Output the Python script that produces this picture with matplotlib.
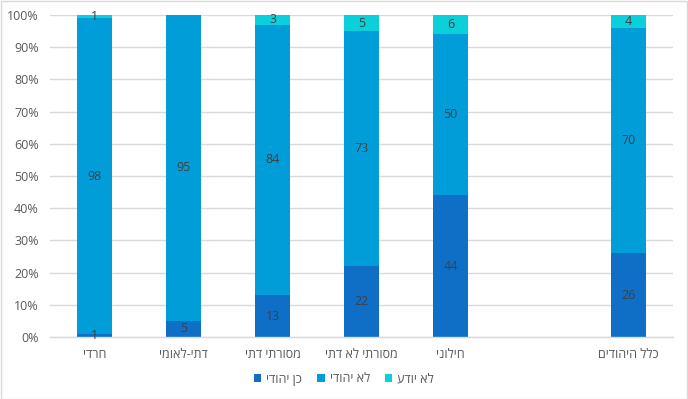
import numpy as np
import matplotlib
matplotlib.use("Agg")
import matplotlib.pyplot as plt
from matplotlib.patches import Rectangle
from matplotlib.ticker import PercentFormatter

plt.rcParams['font.family'] = ['Open Sans', 'DejaVu Sans']

categories = ['חרדי', 'דתי-לאומי', 'מסורתי דתי', 'מסורתי לא דתי', 'חילוני', '', 'כלל היהודים']
yes_jewish = [1, 5, 13, 22, 44, np.nan, 26]
not_jewish = [98, 95, 84, 73, 50, np.nan, 70]
dont_know = [1, 0, 3, 5, 6, np.nan, 4]
series_names = ['כן יהודי', 'לא יהודי', 'לא יודע']
colors = ['#0F6FC6', '#009DD9', '#0BD0D9']
yticks = [0, 10, 20, 30, 40, 50, 60, 70, 80, 90, 100]


def rtl(s):
    return s[::-1]


fig = plt.figure(figsize=(6.88, 3.99), dpi=100)
fig.patches.append(Rectangle((0.001, 0.001), 0.997, 0.996, transform=fig.transFigure,
                             fill=False, edgecolor='#D9D9D9', linewidth=1.0))
ax = fig.add_axes([50 / 688, 1 - 337 / 399, 623 / 688, 322 / 399])

data = np.array([yes_jewish, not_jewish, dont_know], dtype=float)
totals = np.nansum(data, axis=0)
totals[totals == 0] = 1
frac = data / totals * 100
x = np.arange(len(categories))
bottom = np.zeros(len(categories))
for i, (name, col) in enumerate(zip(series_names, colors)):
    vals = frac[i]
    ax.bar(x, vals, width=0.4, bottom=bottom, color=col, label=rtl(name), zorder=2)
    for xi, v, b, raw in zip(x, vals, bottom, data[i]):
        if np.isnan(raw) or raw == 0:
            continue
        ax.text(xi, b + v / 2, f'{int(raw)}', ha='center', va='center',
                fontsize=9, color='#404040', zorder=3)
    bottom = bottom + np.nan_to_num(vals)

ax.set_xlim(-0.5, len(categories) - 0.5)
ax.set_ylim(0, 100)
ax.set_yticks(yticks)
ax.yaxis.set_major_formatter(PercentFormatter(100, decimals=0))
ax.set_xticks(x)
ax.set_xticklabels([rtl(c) for c in categories])
ax.tick_params(axis='both', length=0, labelsize=9, colors='#595959')
ax.tick_params(axis='x', pad=8)
ax.tick_params(axis='y', pad=8)
ax.grid(axis='y', color='#D9D9D9', linewidth=1.0, zorder=0)
for s in ['top', 'right', 'left']:
    ax.spines[s].set_visible(False)
ax.spines['bottom'].set_color('#D9D9D9')
ax.spines['bottom'].set_linewidth(1.0)

ax.legend(loc='center', bbox_to_anchor=(0.5, 1 - 379 / 399), bbox_transform=fig.transFigure,
          ncol=3, frameon=False, fontsize=9, labelcolor='#595959',
          handlelength=0.6, handleheight=0.6, handletextpad=0.4, columnspacing=1.2)

fig.savefig('out.png', dpi=100)
